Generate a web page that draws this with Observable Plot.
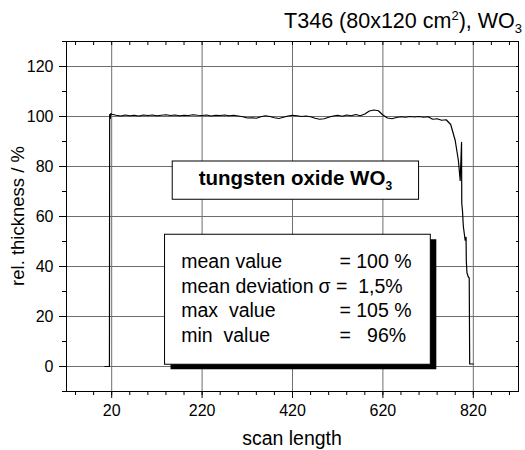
<!DOCTYPE html>
<html><head><meta charset="utf-8">
<script src="https://cdn.jsdelivr.net/npm/d3@7"></script>
<script src="https://cdn.jsdelivr.net/npm/@observablehq/plot@0.6"></script>
<style>
html,body{margin:0;padding:0;background:#fff;}
svg{font-family:"Liberation Sans",Arial,sans-serif;}
</style></head><body><div id="chart"></div>
<script>
// ---- data ----
const scanX = [5, 15, 15.5, 17, 18,
  20, 30, 40, 50, 60, 70, 80, 90, 100, 110, 120, 130, 140, 150, 160, 170, 180, 190,
  200, 210, 220, 230, 240, 250, 260, 270, 280, 290, 300, 310, 320, 330, 340, 350,
  360, 370, 380, 390, 400, 410, 420, 430, 440, 450, 460, 470, 480, 490, 500, 510,
  520, 530, 540, 550, 560, 570, 580, 590, 600, 610, 620, 630, 640, 650, 660, 670,
  680, 690, 700, 710, 720, 730, 740, 750, 760, 770, 780, 787, 791, 794, 794.5, 796,
  798, 802, 804, 804.5, 806, 809, 811, 812, 820];
const thickness = [0, 0, 100.8, 99.2, 101.2,
  100.9, 100.5, 100.2, 100.6, 100.3, 100.5, 100.2, 100.6, 100.4, 100.6, 100.3, 100.5, 100.7, 100.4, 100.6, 100.3, 100.5, 100.4,
  100.7, 100.5, 100.4, 100.6, 100.2, 100.5, 100.4, 100.6, 100.3, 100.5, 100.2, 99.9, 99.4, 99.5, 99.3, 99.9,
  100.3, 100.0, 99.5, 99.2, 99.7, 100.2, 100.5, 100.3, 100.0, 100.2, 99.9, 99.3, 98.9, 99.1, 99.7, 100.2,
  100.5, 100.1, 100.6, 100.3, 100.8, 100.3, 101.0, 102.2, 102.6, 102.3, 100.6, 99.4, 99.1, 99.6, 99.9, 99.7,
  100.0, 99.8, 100.0, 99.7, 99.9, 98.9, 99.1, 98.5, 98.7, 96.8, 90.4, 82.4, 74.4, 89.7, 65.2, 62.5,
  56, 50.5, 51.7, 42.4, 37.5, 35.8, 35.4, 1, 1];
const xTicks = [20, 220, 420, 620, 820];
const xMinorTicks = [-60, -20, 20, 60, 100, 140, 180, 220, 260, 300, 340, 380, 420, 460, 500, 540, 580, 620, 660, 700, 740, 780, 820, 860, 900];
const yTicks = [0, 20, 40, 60, 80, 100, 120];
const yMinorTicks = [-10, 0, 10, 20, 30, 40, 50, 60, 70, 80, 90, 100, 110, 120, 130];
const xLabel = "scan length";
const yLabel = "rel. thickness / %";
const materialName = "tungsten oxide WO";
const statLabels = ["mean value", "mean deviation", "max  value", "min  value"];
const statValues = ["= 100 %", "σ =  1,5%", "= 105 %", "=   96%"];

const data = scanX.map((x, i) => ({x, y: thickness[i]}));
const FONT = '"Liberation Sans", Arial, sans-serif';

const plot = Plot.plot({
  width: 525, height: 450,
  marginLeft: 66, marginRight: 7, marginTop: 41, marginBottom: 59,
  style: {fontFamily: FONT, fontSize: "16px", background: "white", color: "black", overflow: "visible"},
  x: {domain: [-80, 920], label: null},
  y: {domain: [-10, 130], label: null},
  marks: [
    Plot.gridX(xTicks, {stroke: "#6e6e6e", strokeOpacity: 1}),
    Plot.gridY(yTicks, {stroke: "#6e6e6e", strokeOpacity: 1}),
    Plot.line(data, {x: "x", y: "y", stroke: "black", strokeWidth: 1.2}),
    Plot.axisX(xMinorTicks, {tickSize: 4, tickFormat: () => "", label: null}),
    Plot.axisX(xTicks, {tickSize: 7, tickPadding: 6, label: null, fontSize: 16}),
    Plot.axisX(xMinorTicks, {anchor: "top", tickSize: -3, tickFormat: () => "", label: null}),
    Plot.axisY(yMinorTicks, {tickSize: 4, tickFormat: () => "", label: null}),
    Plot.axisY(yTicks, {tickSize: 7, tickPadding: 6, label: null, fontSize: 16}),
    Plot.axisY(yMinorTicks, {anchor: "right", tickSize: -3, tickFormat: () => "", label: null}),
    Plot.frame({stroke: "black"})
  ]
});
document.getElementById("chart").appendChild(plot);

// ---- annotations ----
const sx = plot.scale("x"), sy = plot.scale("y");
const X = v => sx.apply(v), Y = v => sy.apply(v);
const svg = d3.select(plot);
const g = svg.append("g").attr("font-family", FONT).attr("text-anchor", "start");

// title
const t = g.append("text").attr("x", 522).attr("y", 28).attr("text-anchor", "end").attr("font-size", 21.5);
t.append("tspan").text("T346 (80x120 cm");
t.append("tspan").attr("dy", -8).attr("font-size", 13).text("2");
t.append("tspan").attr("dy", 8).text("), WO");
t.append("tspan").attr("dy", 5).attr("font-size", 13).text("3");

// axis labels
g.append("text").attr("x", (X(-80) + X(920)) / 2).attr("y", 445).attr("text-anchor", "middle")
  .attr("font-size", 19.5).text(xLabel);
g.append("text").attr("transform", `translate(24,${(Y(-10) + Y(130)) / 2}) rotate(-90)`)
  .attr("text-anchor", "middle").attr("font-size", 18.5).text(yLabel);

// material box
const nb = {x1: 155, x2: 700, y1: 82, y2: 66.7};
g.append("rect").attr("x", X(nb.x1)).attr("y", Y(nb.y1)).attr("width", X(nb.x2) - X(nb.x1)).attr("height", Y(nb.y2) - Y(nb.y1))
  .attr("fill", "white").attr("stroke", "black");
const nt = g.append("text").attr("x", (X(nb.x1) + X(nb.x2)) / 2).attr("y", Y(72.4)).attr("text-anchor", "middle")
  .attr("font-size", 20.5).attr("font-weight", "bold");
nt.append("tspan").text(materialName);
nt.append("tspan").attr("dy", 5).attr("font-size", 12).text("3");

// stats box with shadow
const sb = {x1: 138, x2: 726, y1: 52.7, y2: 0.7};
const bw = X(sb.x2) - X(sb.x1), bh = Y(sb.y2) - Y(sb.y1);
g.append("rect").attr("x", X(sb.x1) + 6).attr("y", Y(sb.y1) + 5).attr("width", bw).attr("height", bh).attr("fill", "black");
g.append("rect").attr("x", X(sb.x1)).attr("y", Y(sb.y1)).attr("width", bw).attr("height", bh).attr("fill", "white").attr("stroke", "black");
const baselines = [39.1, 29.3, 19.7, 9.7];
const valX = [525, 478.6, 525, 525];
statLabels.forEach((s, i) => {
  g.append("text").attr("x", X(175)).attr("y", Y(baselines[i])).attr("font-size", 19.5)
    .attr("text-anchor", "start").style("white-space", "pre").text(s);
  g.append("text").attr("x", X(valX[i])).attr("y", Y(baselines[i])).attr("font-size", 19.5)
    .attr("text-anchor", "start").style("white-space", "pre").text(statValues[i]);
});
</script></body></html>
